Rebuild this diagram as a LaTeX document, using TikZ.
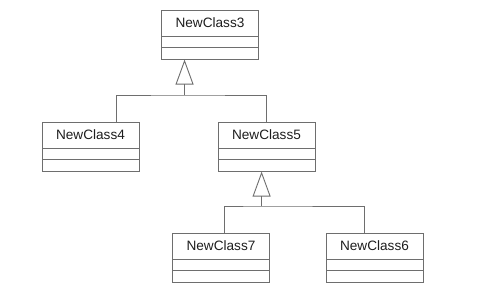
\documentclass[tikz,border=0pt]{standalone}
\usepackage{fontspec}
\setmainfont{Liberation Sans}
\usetikzlibrary{shapes.multipart,arrows.meta,calc}
\definecolor{cline}{HTML}{6E6E6E}
\definecolor{ctext}{HTML}{1E1E1E}
\newcommand{\umlname}[1]{\rule[-8pt]{0pt}{25pt}#1\nodepart{two}\rule{0pt}{10pt}\nodepart{three}\rule{0pt}{11pt}}
\tikzset{
  umlclass/.style={rectangle split, rectangle split parts=3, draw=cline, line width=0.9pt,
    inner xsep=0pt, inner ysep=0pt, text width=97pt, align=center, text=ctext,
    font=\fontsize{13.6}{16}\selectfont, anchor=north},
  genline/.style={draw=cline, line width=0.9pt},
  gen/.style={genline, -{Triangle[open, length=25pt, width=18pt, line width=0.9pt]}}
}
\begin{document}
\begin{tikzpicture}[x=1pt, y=-1pt]
\fill[white] (0,0) rectangle (498,298);
\useasboundingbox (0,0) rectangle (498,298);
%% classes
\node[umlclass] (c3) at (210,10) {\umlname{NewClass3}};
\node[umlclass] (c4) at (90.5,122) {\umlname{NewClass4}};
\node[umlclass] (c5) at (266.5,122) {\umlname{NewClass5}};
\node[umlclass] (c7) at (221,233) {\umlname{NewClass7}};
\node[umlclass] (c6) at (374.5,233) {\umlname{NewClass6}};
%% generalisation: NewClass4, NewClass5 -> NewClass3
\coordinate (t3) at ($(c3.south west)!0.24!(c3.south east)$);
\coordinate (j3) at (t3 |- 0,95);
\draw[genline] ($(c4.north west)!0.76!(c4.north east)$) |- (j3) -| (c5.north);
\draw[gen] (j3) -- (t3);
%% generalisation: NewClass7, NewClass6 -> NewClass5
\coordinate (t5) at ($(c5.south west)!0.45!(c5.south east)$);
\coordinate (j5) at (t5 |- 0,206);
\draw[genline] ($(c7.north west)!0.54!(c7.north east)$) |- (j5) -| ($(c6.north west)!0.4!(c6.north east)$);
\draw[gen] (j5) -- (t5);
\end{tikzpicture}
\end{document}
